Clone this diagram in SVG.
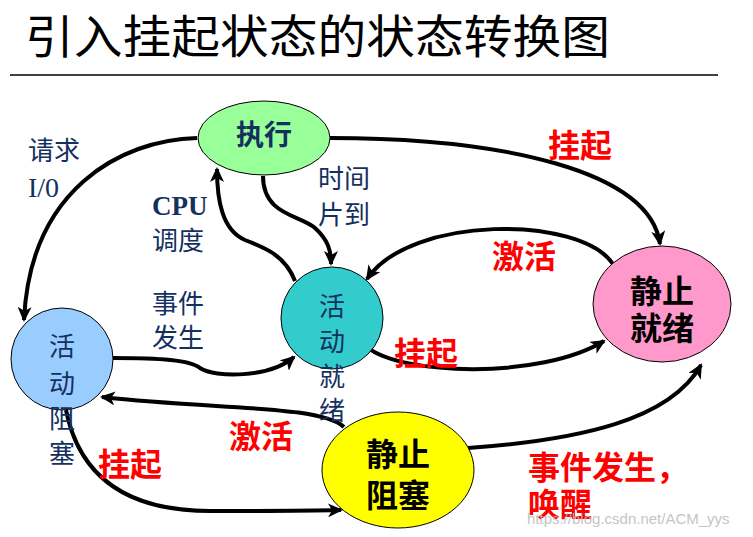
<svg xmlns="http://www.w3.org/2000/svg" width="753" height="537" viewBox="0 0 753 537">
<style>
.node{stroke:#000;stroke-width:1}
.edge{fill:none;stroke:#000;stroke-width:4;marker-end:url(#arr)}
.cjk{font-family:"Noto Sans CJK SC","Noto Sans",sans-serif}
.nav{fill:#14305F;font-size:26px}
.red{fill:#FF0000;font-weight:bold;font-size:32px}
.blk{fill:#000;font-weight:bold;font-size:32px}
.mid{text-anchor:middle}
</style>
<defs>
<marker id="arr" markerUnits="userSpaceOnUse" markerWidth="16" markerHeight="14" refX="13" refY="7" orient="auto">
<path d="M0,0 L15,7 L0,14 L4,7 Z" fill="#000"/>
</marker>
</defs>
<rect width="753" height="537" fill="#fff"/>
<text x="25" y="53" class="cjk" font-size="46" textLength="585" lengthAdjust="spacingAndGlyphs" fill="#000">引入挂起状态的状态转换图</text>
<line x1="10" y1="75" x2="718" y2="75" stroke="#000" stroke-width="1.5"/>

<g id="connectors">
<path class="edge" d="M197,138 C120,140 30,190 24,320"/>
<path class="edge" d="M330,138 C500,138 650,170 660,244"/>
<path class="edge" d="M263,176 C263,215 300,215 315,228 C328,240 331,250 331,264"/>
<path class="edge" d="M295,281 C285,255 265,248 245,240 C222,230 217,200 217,169"/>
<path class="edge" d="M613,264 C580,215 410,215 367,279"/>
<path class="edge" d="M367,347 C400,375 540,380 604,341"/>
<path class="edge" d="M113,358 C160,358 190,360 200,368 C215,378 270,378 294,357"/>
<path class="edge" d="M344,427 C320,405 220,410 102,397"/>
<path class="edge" d="M66,410 C80,480 130,511 210,511 C260,511 300,511 341,510"/>
<path class="edge" d="M468,448 C580,440 670,420 701,365"/>
</g>

<g id="exec">
<ellipse class="node" cx="264" cy="138" rx="66" ry="37" fill="#99FF99"/>
<text x="264" y="145" class="cjk mid" font-size="28" font-weight="bold" fill="#14305F">执行</text>
</g>
<g id="active-ready">
<circle class="node" cx="332" cy="318" r="51" fill="#33CCCC"/>
<text class="cjk nav mid" font-size="27" x="332"><tspan x="332" y="316">活</tspan><tspan x="332" y="351">动</tspan><tspan x="332" y="386">就</tspan><tspan x="332" y="420">绪</tspan></text>
</g>
<g id="static-ready">
<ellipse class="node" cx="662" cy="304" rx="69" ry="58" fill="#FF99CC"/>
<text class="cjk blk mid"><tspan x="662" y="303">静止</tspan><tspan x="662" y="340">就绪</tspan></text>
</g>
<g id="active-blocked">
<circle class="node" cx="62" cy="359" r="51" fill="#99CCFF"/>
<text class="cjk nav mid" font-size="27"><tspan x="62" y="356">活</tspan><tspan x="62" y="393">动</tspan><tspan x="62" y="428">阻</tspan><tspan x="62" y="463">塞</tspan></text>
</g>
<g id="static-blocked">
<ellipse class="node" cx="398" cy="470" rx="76" ry="58" fill="#FFFF00"/>
<text class="cjk blk mid" font-size="33"><tspan x="398" y="466">静止</tspan><tspan x="398" y="507">阻塞</tspan></text>
</g>

<g id="labels">
<text x="28" y="160" class="cjk nav">请求</text>
<text x="28" y="197" font-family="Liberation Serif,serif" font-size="28" fill="#14305F">I/0</text>
<text x="152" y="215" font-family="Liberation Serif,serif" font-size="27" font-weight="bold" fill="#14305F">CPU</text>
<text x="152" y="250" class="cjk nav">调度</text>
<text x="152" y="313" class="cjk nav">事件</text>
<text x="152" y="347" class="cjk nav">发生</text>
<text x="318" y="188" class="cjk nav">时间</text>
<text x="318" y="224" class="cjk nav">片到</text>
<text x="580" y="157" class="cjk red mid">挂起</text>
<text x="524" y="268" class="cjk red mid">激活</text>
<text x="426" y="365" class="cjk red mid">挂起</text>
<text x="261" y="448" class="cjk red mid">激活</text>
<text x="130" y="476" class="cjk red mid">挂起</text>
<text x="528" y="479" class="cjk red" font-size="31">事件发生，</text>
<text x="528" y="516" class="cjk red" font-size="31">唤醒</text>
<text x="527" y="524" font-family="Liberation Sans,sans-serif" font-size="15" fill="#BBBBBB" opacity="0.85">https://blog.csdn.net/ACM_yys</text>
</g>
</svg>
